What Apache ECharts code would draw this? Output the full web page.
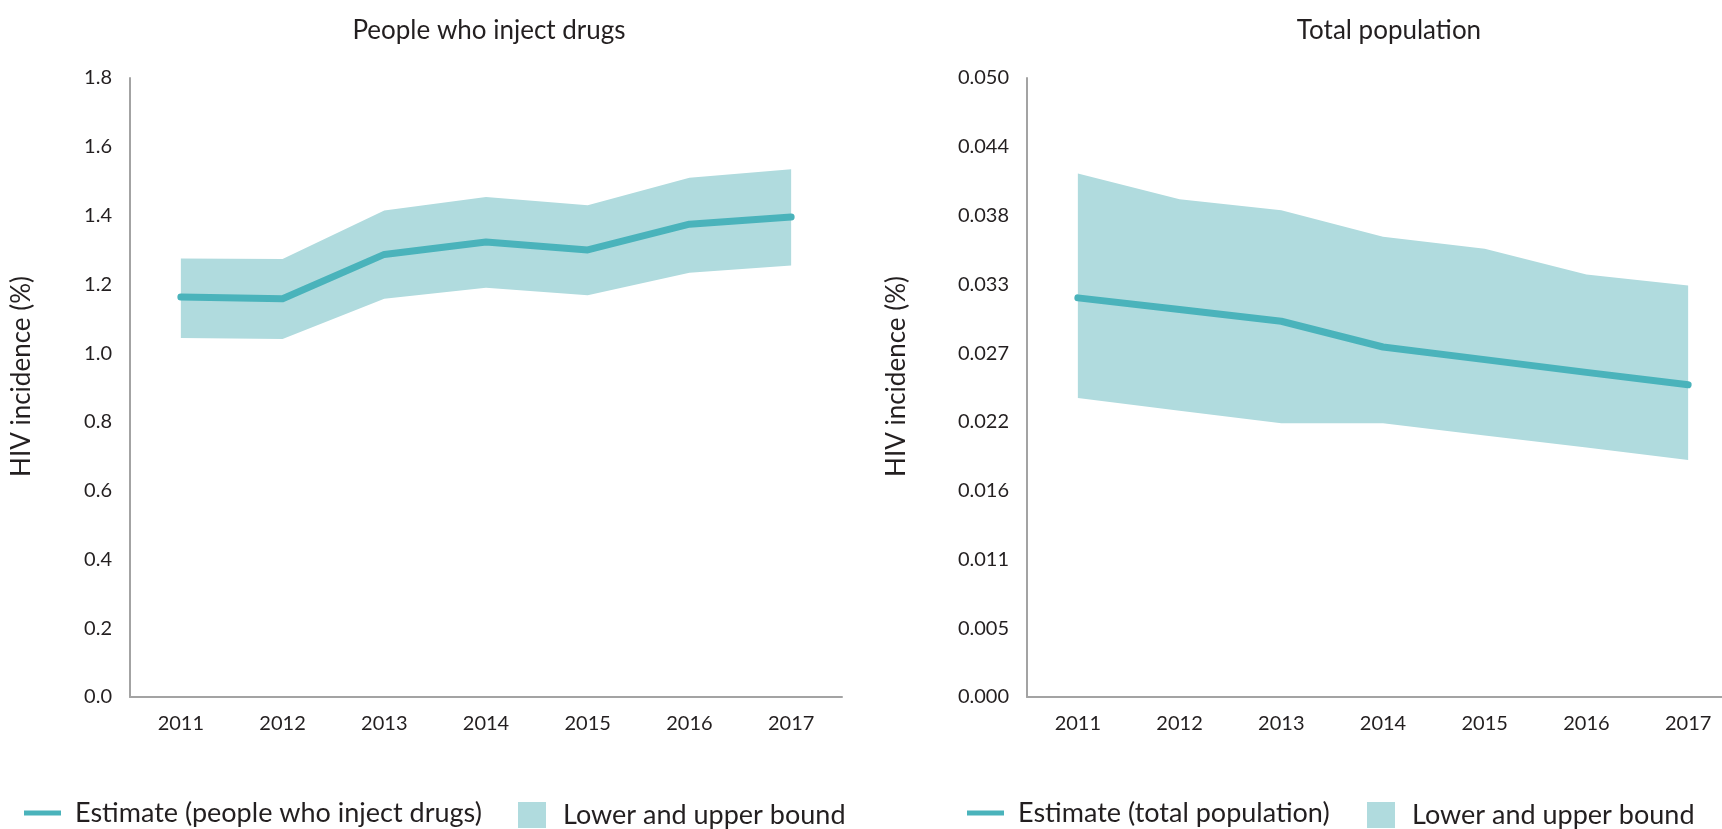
<!DOCTYPE html>
<html>
<head>
<meta charset="utf-8">
<script src="https://cdn.jsdelivr.net/npm/echarts@6/dist/echarts.min.js"></script>
<style>
html,body{margin:0;padding:0;background:#fff;overflow:hidden;width:1722px;height:829px;}
#chart{width:1740px;height:829px;}
</style>
</head>
<body>
<div id="chart"></div>
<script>
// ---- data ----
const years = ['2011','2012','2013','2014','2015','2016','2017'];

const pwidEstimate = [1.163, 1.158, 1.287, 1.323, 1.300, 1.375, 1.396];
const pwidLower    = [1.044, 1.041, 1.158, 1.190, 1.168, 1.234, 1.255];
const pwidUpper    = [1.275, 1.274, 1.415, 1.454, 1.430, 1.510, 1.535];

const totalEstimate = [0.03224, 0.03130, 0.03035, 0.02827, 0.02725, 0.02622, 0.02522];
const totalLower    = [0.02415, 0.02312, 0.02212, 0.02212, 0.02112, 0.02015, 0.01915];
const totalUpper    = [0.04228, 0.04020, 0.03931, 0.03718, 0.03621, 0.03413, 0.03324];

const leftTicks  = ['0.0','0.2','0.4','0.6','0.8','1.0','1.2','1.4','1.6','1.8'];
const rightTicks = ['0.000','0.005','0.011','0.016','0.022','0.027','0.033','0.038','0.044','0.050'];

const titles = ['People who inject drugs', 'Total population'];
const yName = 'HIV incidence (%)';
const estNames = ['Estimate (people who inject drugs)', 'Estimate (total population)'];
const bandName = 'Lower and upper bound';

// ---- styling ----
const FONT = 'Lato';
const TXT = '#231f20';
const AXIS = '#a3a3a3';
const LINE = '#4ab3bb';
const BAND = '#b0dbde';

const leftInterval = 0.2;
const rightInterval = 0.05 / 9;

function diff(u, l) { return u.map((v, i) => v - l[i]); }

function xAxisCfg(idx) {
  return {
    type: 'category', gridIndex: idx, data: years, boundaryGap: true,
    axisLine: { lineStyle: { color: AXIS, width: 2 } },
    axisTick: { show: false },
    axisLabel: { color: TXT, fontFamily: FONT, fontSize: 20, margin: 17 }
  };
}

function yAxisCfg(idx, max, interval, ticks, nameGap) {
  return {
    type: 'value', gridIndex: idx, min: 0, max: max, interval: interval,
    name: yName, nameLocation: 'middle', nameGap: nameGap, nameRotate: 90,
    nameTextStyle: { color: TXT, fontFamily: FONT, fontSize: 26, padding: [0, 0, 0, 22] },
    axisLine: { show: true, lineStyle: { color: AXIS, width: 2 } },
    axisTick: { show: false },
    splitLine: { show: false },
    axisLabel: {
      color: TXT, fontFamily: FONT, fontSize: 20, margin: 18,
      formatter: function (v) { return ticks[Math.round(v / interval)]; }
    }
  };
}

function bandSeries(idx, lower, upper, stackId) {
  return [
    {
      type: 'line', name: 'lower' + idx, xAxisIndex: idx, yAxisIndex: idx,
      data: lower, stack: stackId, symbol: 'none', silent: true,
      lineStyle: { opacity: 0 }, z: 1
    },
    {
      type: 'line', name: bandName, xAxisIndex: idx, yAxisIndex: idx,
      data: diff(upper, lower), stack: stackId, symbol: 'none',
      itemStyle: { color: BAND },
      lineStyle: { opacity: 0 },
      areaStyle: { color: BAND, opacity: 1 }, z: 1
    }
  ];
}

function estSeries(idx, data) {
  return {
    type: 'line', name: estNames[idx], xAxisIndex: idx, yAxisIndex: idx,
    data: data, symbol: 'none',
    itemStyle: { color: LINE },
    lineStyle: { color: LINE, width: 7, cap: 'round', join: 'round' }, z: 3
  };
}

function legendCfg(name, left, icon, w, h, padLeft, top) {
  return {
    data: [name], left: left, top: top, padding: 0, icon: icon,
    itemWidth: w, itemHeight: h, selectedMode: false,
    textStyle: { color: TXT, fontFamily: FONT, fontSize: 27, lineHeight: 30, padding: [0, 0, 0, padLeft] }
  };
}

const chart = echarts.init(document.getElementById('chart'), null, { renderer: 'canvas' });
chart.setOption({
  animation: false,
  backgroundColor: '#fff',
  title: [
    { text: titles[0], left: 484, top: 13, textAlign: 'center',
      textStyle: { color: TXT, fontFamily: FONT, fontSize: 26, fontWeight: 'normal' } },
    { text: titles[1], left: 1384, top: 13, textAlign: 'center',
      textStyle: { color: TXT, fontFamily: FONT, fontSize: 26, fontWeight: 'normal' } }
  ],
  grid: [
    { left: 130, width: 712, top: 78, bottom: 132, outerBoundsMode: 'none', containLabel: false },
    { left: 1027, width: 712, top: 78, bottom: 132, outerBoundsMode: 'none', containLabel: false }
  ],
  legend: [
    legendCfg(estNames[0], 24, 'rect', 37, 5, 9, 798),
    legendCfg(bandName, 518, 'rect', 28, 26, 12, 800),
    legendCfg(estNames[1], 967, 'rect', 37, 5, 9, 798),
    legendCfg(bandName, 1367, 'rect', 28, 26, 12, 800)
  ],
  xAxis: [xAxisCfg(0), xAxisCfg(1)],
  yAxis: [
    yAxisCfg(0, 1.8, leftInterval, leftTicks, 95),
    yAxisCfg(1, 0.05, rightInterval, rightTicks, 117)
  ],
  series: [
    ...bandSeries(0, pwidLower, pwidUpper, 'b0'),
    estSeries(0, pwidEstimate),
    ...bandSeries(1, totalLower, totalUpper, 'b1'),
    estSeries(1, totalEstimate)
  ]
});
</script>
</body>
</html>
